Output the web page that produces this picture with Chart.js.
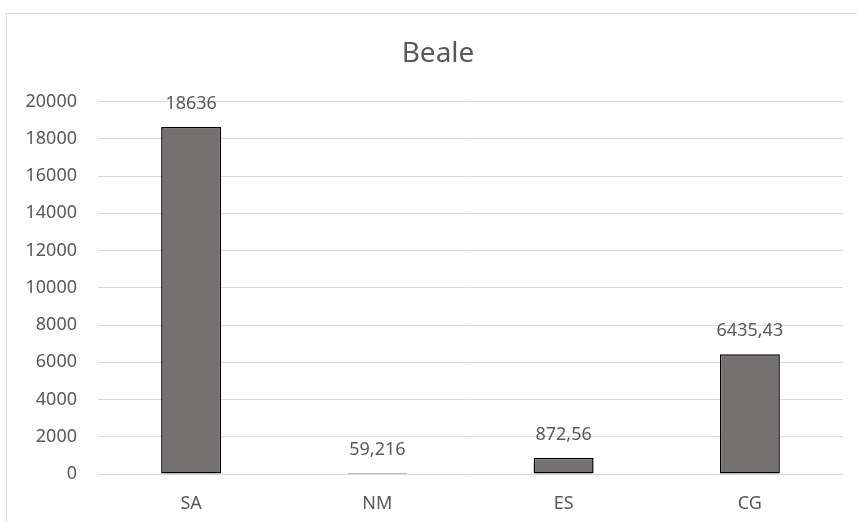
<!DOCTYPE html>
<html>
<head>
<meta charset="utf-8">
<script src="https://cdn.jsdelivr.net/npm/chart.js@4/dist/chart.umd.min.js"></script>
<style>
html,body{margin:0;padding:0;background:#fff;overflow:hidden;}
#wrap{position:relative;width:857px;height:522px;}
#frame{position:absolute;left:6px;top:13px;width:900px;height:600px;border:1px solid #d9d9d9;box-sizing:border-box;}
#c{position:absolute;left:0;top:0;}
</style>
</head>
<body>
<div id="wrap">
  <div id="frame"></div>
  <canvas id="c" width="857" height="522"></canvas>
</div>
<script>
// categories and values
var categorias = ["SA", "NM", "ES", "CG"];
var valores = [18636, 59.216, 872.56, 6435.43];
var titulo = "Beale";
var yMax = 20000;
var yPaso = 2000;

var gris = "#595959";
var fuente = "'Noto Sans', sans-serif";

// numbers over the bars, with comma as decimal mark
var etiquetas = {
    id: "etiquetas",
    afterDatasetsDraw: function (chart) {
        var ctx = chart.ctx;
        var meta = chart.getDatasetMeta(0);
        ctx.save();
        ctx.font = "18px " + fuente;
        ctx.fillStyle = gris;
        ctx.textAlign = "center";
        ctx.textBaseline = "middle";
        for (var i = 0; i < meta.data.length; i++) {
            var bar = meta.data[i];
            var txt = String(valores[i]).replace(".", ",");
            ctx.fillText(txt, bar.x, bar.y - 23);
        }
        ctx.restore();
    }
};

// let the y labels use the space left of the padding (otherwise they get clipped)
var ejeAncho = {
    id: "ejeAncho",
    afterLayout: function (chart) {
        chart.scales.y.left = 0;
    }
};

var ctx = document.getElementById("c");
var grafico = new Chart(ctx, {
    type: "bar",
    data: {
        labels: categorias,
        datasets: [{
            data: valores,
            backgroundColor: "#767171",
            borderColor: "#000000",
            borderWidth: 1.5,
            borderSkipped: false,
            categoryPercentage: 1,
            barPercentage: 0.322
        }]
    },
    options: {
        responsive: false,
        animation: false,
        layout: { padding: { left: 33, right: 14, top: 0, bottom: 0 } },
        plugins: {
            legend: { display: false },
            tooltip: { enabled: false },
            title: {
                display: true,
                text: titulo,
                color: gris,
                font: { family: fuente, size: 28, weight: "normal" },
                padding: { top: 37, bottom: 31 }
            }
        },
        scales: {
            x: {
                grid: { display: false, drawTicks: false },
                border: { display: false },
                ticks: { color: gris, font: { family: fuente, size: 18 }, padding: 19 },
                afterFit: function (s) { s.height = 48; }
            },
            y: {
                min: 0,
                max: yMax,
                grid: { color: "#d9d9d9", lineWidth: 1, drawTicks: false },
                border: { display: false },
                ticks: {
                    stepSize: yPaso,
                    color: gris,
                    font: { family: fuente, size: 18 },
                    padding: 21,
                    callback: function (v) { return String(v); }
                },
                afterFit: function (s) { s.width = 65; }
            }
        }
    },
    plugins: [etiquetas, ejeAncho]
});
</script>
</body>
</html>
